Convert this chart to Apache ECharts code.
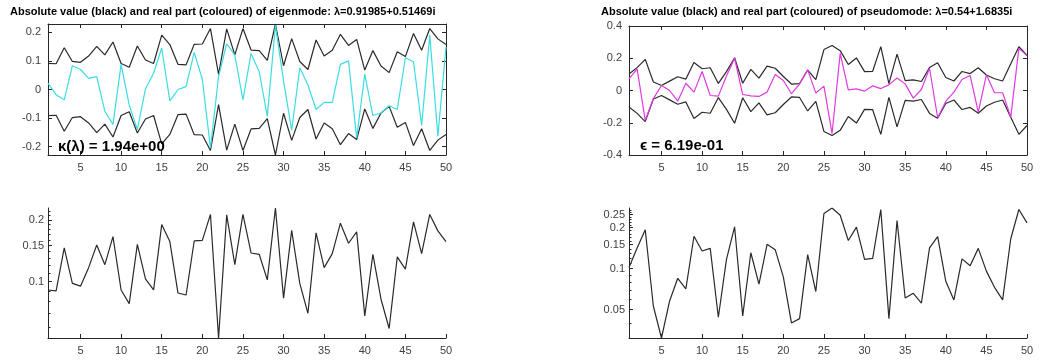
<!DOCTYPE html>
<html>
<head>
<meta charset="utf-8">
<script src="https://cdn.jsdelivr.net/npm/echarts@6/dist/echarts.min.js"></script>
<style>html,body{margin:0;padding:0;background:#fff}#c{width:1058px;height:360px}</style>
</head>
<body>
<div id="c"></div>
<script>
// x index
var idx = [1,2,3,4,5,6,7,8,9,10,11,12,13,14,15,16,17,18,19,20,21,22,23,24,25,26,27,28,29,30,31,32,33,34,35,36,37,38,39,40,41,42,43,44,45,46,47,48,49,50];
// eigenmode: absolute value and real part
var eigAbs = [0.091,0.090,0.146,0.098,0.095,0.117,0.151,0.121,0.166,0.091,0.078,0.152,0.103,0.091,0.190,0.157,0.088,0.086,0.158,0.159,0.213,0.053,0.212,0.121,0.213,0.138,0.136,0.102,0.229,0.083,0.178,0.098,0.070,0.173,0.117,0.137,0.193,0.154,0.175,0.068,0.136,0.082,0.059,0.132,0.115,0.196,0.137,0.213,0.177,0.157];
var eigRe = [0.022,-0.018,-0.036,0.083,0.070,0.039,0.045,-0.076,-0.122,0.088,-0.055,-0.140,0.002,0.057,0.145,-0.040,0.000,0.010,0.130,0.036,-0.205,0.045,0.160,0.120,-0.036,0.126,0.062,-0.094,0.224,0.030,-0.142,0.076,0.016,-0.070,-0.045,-0.045,0.088,0.100,-0.169,0.054,-0.091,-0.082,-0.057,-0.070,0.111,0.097,-0.126,0.190,-0.163,0.149];
// pseudomode: absolute value and real part
var psAbs = [0.102,0.142,0.193,0.053,0.031,0.058,0.085,0.071,0.173,0.135,0.141,0.044,0.117,0.203,0.045,0.131,0.077,0.151,0.138,0.087,0.040,0.043,0.127,0.068,0.254,0.279,0.247,0.161,0.202,0.117,0.119,0.272,0.043,0.226,0.061,0.066,0.056,0.142,0.172,0.081,0.059,0.118,0.105,0.141,0.096,0.073,0.059,0.166,0.272,0.217];
var psRe = [0.072,0.134,-0.185,-0.050,0.031,0.000,-0.066,0.045,-0.010,0.118,-0.031,-0.035,0.090,0.200,-0.025,-0.033,-0.037,-0.010,0.099,0.062,-0.020,0.040,0.128,-0.016,0.027,-0.267,0.230,0.004,0.010,-0.004,0.029,0.012,0.035,0.078,0.041,-0.047,0.006,0.138,-0.169,-0.068,-0.010,0.068,0.093,-0.134,0.097,-0.014,-0.014,-0.165,0.261,0.216];
// tick labels
var xTicks = [5,10,15,20,25,30,35,40,45,50];
var eigTicks = [-0.2,-0.1,0,0.1,0.2];
var psTicks = [-0.4,-0.2,0,0.2,0.4];
var eigLogTicks = [0.1,0.15,0.2];
var eigLogMinor = [0.06,0.07,0.08,0.09,0.11,0.12,0.13,0.14,0.16,0.17,0.18,0.19,0.21,0.22];
var psLogTicks = [0.05,0.1,0.15,0.2,0.25];
var psLogMinor = [0.04,0.06,0.07,0.08,0.09,0.11,0.12,0.13,0.14,0.16,0.17,0.18,0.19,0.21,0.22,0.23,0.24,0.26,0.27];
var titleL = 'Absolute value (black) and real part (coloured) of eigenmode: \u03bb=0.91985+0.51469i';
var titleR = 'Absolute value (black) and real part (coloured) of pseudomode: \u03bb=0.54+1.6835i';
var noteL = '\u03ba(\u03bb) = 1.94e+00';
var noteR = '\u03f5 = 6.19e-01';

function pairs(v){ return v.map(function(y,i){ return [idx[i], y]; }); }
function neg(v){ return v.map(function(y){ return -y; }); }

var FONT = 'Liberation Sans, Arial, sans-serif';
var AX = '#262626';
var LAB = {color:'#404040', fontSize:11, fontFamily:FONT};

function xAx(grid, show, pos){
  return {type:'value', gridIndex:grid, min:1, max:50, position:pos,
    axisLine:{show:true, onZero:false, lineStyle:{color:AX, width:1}},
    axisTick:{show:true, inside:true, length:4, customValues:xTicks, lineStyle:{color:AX}},
    axisLabel:Object.assign({show:show, margin:7, customValues:xTicks}, LAB),
    splitLine:{show:false}};
}
function yLin(grid, mn, mx, ticks, show, pos){
  return {type:'value', gridIndex:grid, min:mn, max:mx, position:pos,
    axisLine:{show:true, onZero:false, lineStyle:{color:AX, width:1}},
    axisTick:{show:true, inside:true, length:4, customValues:ticks, lineStyle:{color:AX}},
    axisLabel:Object.assign({show:show, margin:7, customValues:ticks}, LAB),
    splitLine:{show:false}};
}
function yLog(grid, mn, mx, ticks, minor, major){
  if (major) {
    return {type:'log', gridIndex:grid, min:mn, max:mx, position:'left',
      axisLine:{show:true, lineStyle:{color:AX, width:1}},
      axisTick:{show:true, inside:true, length:4, customValues:ticks, lineStyle:{color:AX}},
      axisLabel:Object.assign({show:true, margin:4, customValues:ticks}, LAB),
      splitLine:{show:false}, minorTick:{show:false}};
  }
  return {type:'log', gridIndex:grid, min:mn, max:mx, position:'left',
    axisLine:{show:false},
    axisTick:{show:true, inside:true, length:2.5, customValues:minor, lineStyle:{color:AX}},
    axisLabel:{show:false},
    splitLine:{show:false}};
}

var eigMax = Math.max.apply(null, eigAbs);
var eigMin = Math.min.apply(null, eigAbs);
var psMax = Math.max.apply(null, psAbs);
var psMin = Math.min.apply(null, psAbs);

function line(xi, yi, data, color){
  return {type:'line', xAxisIndex:xi, yAxisIndex:yi, data:pairs(data), showSymbol:false, symbol:'none',
    lineStyle:{color:color, width:1.2}, silent:true, animation:false};
}

var option = {
  animation:false,
  backgroundColor:'#fff',
  title:[
    {text:titleL, left:10, top:6, padding:0, textStyle:{fontSize:11, fontWeight:'bold', color:'#000', fontFamily:FONT}},
    {text:titleR, left:601, top:6, padding:0, textStyle:{fontSize:11, fontWeight:'bold', color:'#000', fontFamily:FONT}},
    {text:noteL, left:58, top:139, padding:0, textStyle:{fontSize:15, fontWeight:'bold', color:'#000', fontFamily:FONT}},
    {text:noteR, left:640, top:138, padding:0, textStyle:{fontSize:15, fontWeight:'bold', color:'#000', fontFamily:FONT}}
  ],
  grid:[
    {left:48, top:24, width:398, height:131},
    {left:48, top:208, width:398, height:130},
    {left:629, top:26, width:398, height:129},
    {left:629, top:208, width:398, height:130}
  ],
  xAxis:[
    xAx(0, true, 'bottom'),   // 0
    xAx(0, false, 'top'),     // 1
    xAx(1, true, 'bottom'),   // 2
    xAx(2, true, 'bottom'),   // 3
    xAx(2, false, 'top'),     // 4
    xAx(3, true, 'bottom')    // 5
  ],
  yAxis:[
    yLin(0, -eigMax, eigMax, eigTicks, true, 'left'),   // 0
    yLin(0, -eigMax, eigMax, eigTicks, false, 'right'), // 1
    yLog(1, eigMin, eigMax, eigLogTicks, eigLogMinor, true),  // 2
    yLog(1, eigMin, eigMax, eigLogTicks, eigLogMinor, false), // 3
    yLin(2, -0.4, 0.4, psTicks, true, 'left'),          // 4
    yLin(2, -0.4, 0.4, psTicks, false, 'right'),        // 5
    yLog(3, psMin, psMax, psLogTicks, psLogMinor, true),  // 6
    yLog(3, psMin, psMax, psLogTicks, psLogMinor, false)  // 7
  ],
  series:[
    line(0, 0, eigAbs, '#2a2a2a'),
    line(0, 0, neg(eigAbs), '#2a2a2a'),
    line(0, 0, eigRe, '#3adde3'),
    line(2, 2, eigAbs, '#2a2a2a'),
    line(3, 4, psAbs, '#2a2a2a'),
    line(3, 4, neg(psAbs), '#2a2a2a'),
    line(3, 4, psRe, '#e03ae0'),
    line(5, 6, psAbs, '#2a2a2a')
  ]
};
var chart = echarts.init(document.getElementById('c'), null, {renderer:'canvas'});
chart.setOption(option);
</script>
</body>
</html>
